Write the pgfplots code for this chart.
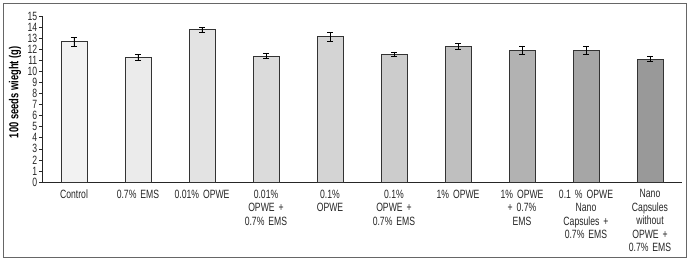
\documentclass[border=0pt]{standalone}
\usepackage{pgfplots}
\pgfplotsset{compat=1.18}
\usepackage{fontspec}
\setmainfont{Liberation Sans}[FakeStretch=0.72]
\begin{document}
\begin{tikzpicture}
\begin{axis}[name=ax, scale only axis, width=640bp, height=166bp,
  xmin=-0.5, xmax=9.5, ymin=0, ymax=15,
  axis x line=bottom, axis y line=left,
  axis line style={-, line width=0.7bp, black!85},
  ytick={0,1,...,15},
  ytick style={black!85, line width=0.6bp},
  major tick length=3bp,
  tick align=outside,
  xtick={0,...,9},
  extra x ticks={0.5,1.5,2.5,3.5,4.5,5.5,6.5,7.5,8.5},
  extra x tick labels={},
  extra x tick style={major tick length=2.5bp, tick style={black!85, line width=0.7bp}},
  xtick style={draw=none},
  xticklabels={Control, 0.7\% EMS, 0.01\% OPWE, {0.01\%\\OPWE +\\0.7\% EMS}, {0.1\%\\OPWE}, {0.1\%\\OPWE +\\0.7\% EMS}, 1\% OPWE, {1\% OPWE\\+ 0.7\%\\EMS}, {0.1 \% OPWE\\Nano\\Capsules +\\0.7\% EMS}, {Nano\\Capsules\\without\\OPWE +\\0.7\% EMS}},
  xticklabel style={align=center, text width=60bp, font=\fontsize{12bp}{13.5bp}\selectfont, color=black!85, inner sep=1bp, yshift=-3.5bp},
  yticklabel style={font=\fontsize{12bp}{12bp}\selectfont, color=black!85, inner sep=1.5bp},
  /pgf/number format/assume math mode=true,
  ylabel={\bfseries 100 seeds wieght (g)},
  ylabel style={at={(axis description cs:-0.042,0.54)}, anchor=center, rotate=0, font=\fontsize{13bp}{13bp}\selectfont},
  ybar, bar width=26bp, bar shift=0pt,
  every axis plot/.append style={draw=black!80, line width=0.7bp},
  error bars/error bar style={black, line width=0.7bp},
  error bars/error mark options={rotate=90, mark size=3bp, black, line width=0.7bp},
]
\addplot[fill=black!5, error bars/.cd, y dir=both, y explicit] coordinates {(0,12.67) +- (0,0.40)};
\addplot[fill=black!8, error bars/.cd, y dir=both, y explicit] coordinates {(1,11.26) +- (0,0.30)};
\addplot[fill=black!11, error bars/.cd, y dir=both, y explicit] coordinates {(2,13.76) +- (0,0.20)};
\addplot[fill=black!14, error bars/.cd, y dir=both, y explicit] coordinates {(3,11.38) +- (0,0.25)};
\addplot[fill=black!17, error bars/.cd, y dir=both, y explicit] coordinates {(4,13.13) +- (0,0.42)};
\addplot[fill=black!20, error bars/.cd, y dir=both, y explicit] coordinates {(5,11.56) +- (0,0.20)};
\addplot[fill=black!25, error bars/.cd, y dir=both, y explicit] coordinates {(6,12.26) +- (0,0.30)};
\addplot[fill=black!30, error bars/.cd, y dir=both, y explicit] coordinates {(7,11.90) +- (0,0.40)};
\addplot[fill=black!35, error bars/.cd, y dir=both, y explicit] coordinates {(8,11.90) +- (0,0.36)};
\addplot[fill=black!40, error bars/.cd, y dir=both, y explicit] coordinates {(9,11.11) +- (0,0.20)};
\end{axis}
\draw[black!60, line width=0.9bp] ([xshift=-39bp,yshift=-75bp]ax.south west) rectangle ([xshift=644bp,yshift=179bp]ax.south west);
\path ([xshift=-42bp,yshift=-79bp]ax.south west) rectangle ([xshift=647bp,yshift=182bp]ax.south west);
\end{tikzpicture}
\end{document}
